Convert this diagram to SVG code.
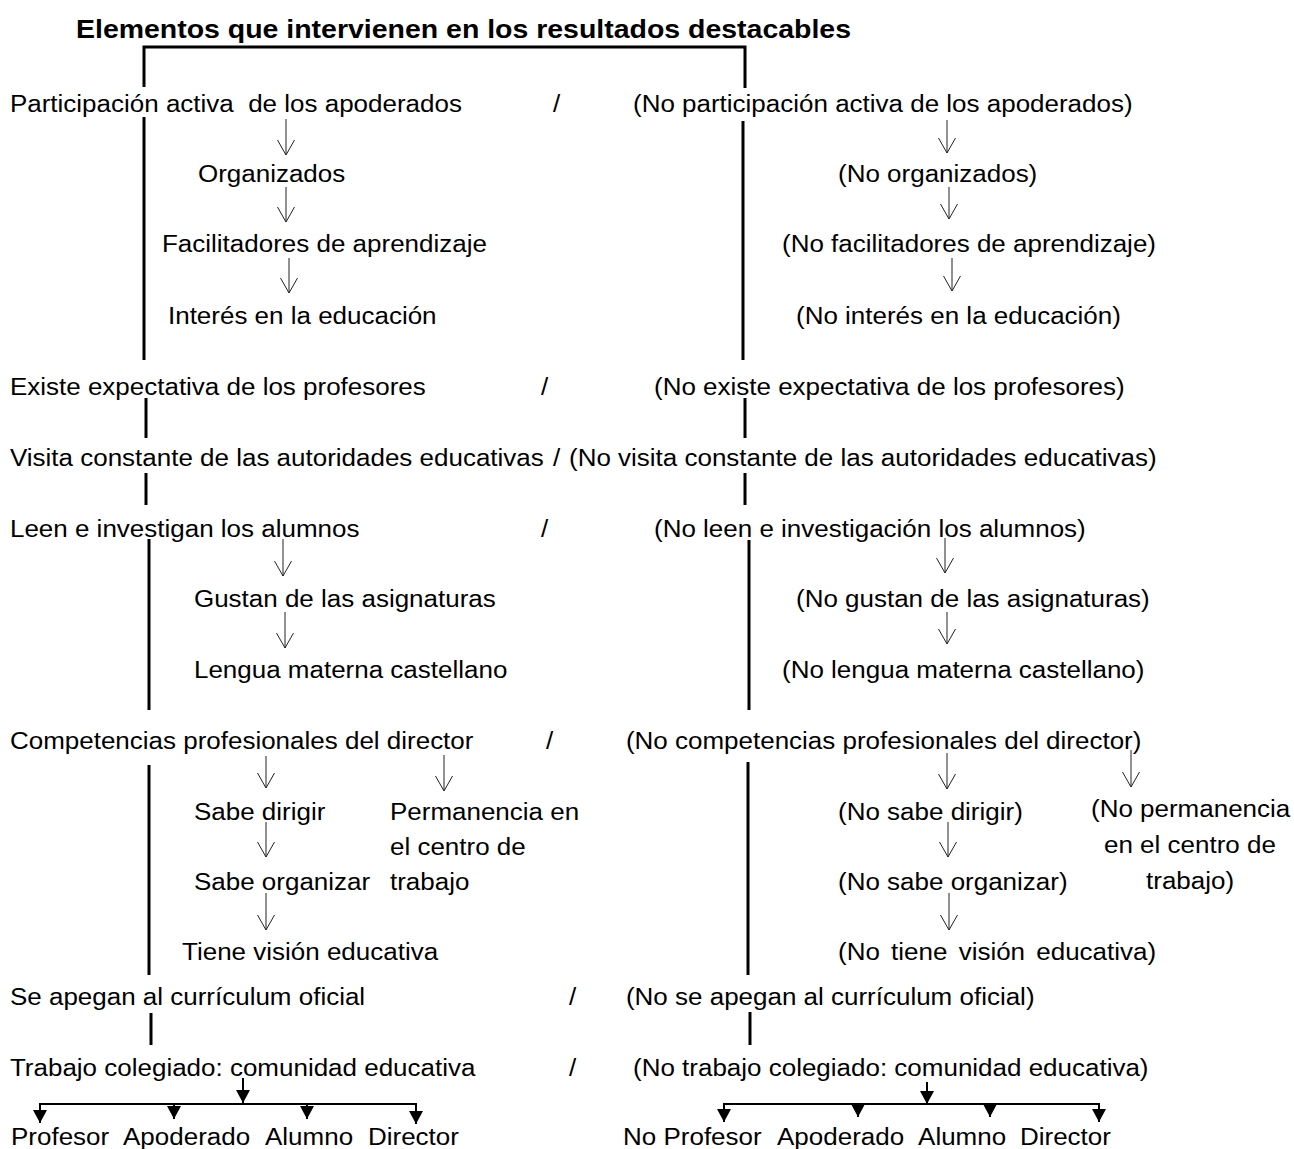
<svg xmlns="http://www.w3.org/2000/svg" width="1294" height="1149" viewBox="0 0 1294 1149">
<defs>
<style>
text{font-family:"Liberation Sans",Arial,sans-serif;font-size:24px;fill:#000;white-space:pre}
.title{font-weight:bold;font-size:25px}
.thick{stroke:#000;stroke-width:3;fill:none}
.thin{stroke:#222;stroke-width:1;fill:none}
.bar{stroke:#000;stroke-width:2;fill:none}
</style>
<marker id="openV" markerUnits="userSpaceOnUse" markerWidth="20" markerHeight="20" viewBox="-17 -10 19 20" refX="0" refY="0" orient="auto">
<path d="M-15,-8.5 L0,0 L-15,8.5" stroke="#222" stroke-width="1" fill="none"/>
</marker>
<marker id="solid" markerUnits="userSpaceOnUse" markerWidth="16" markerHeight="16" viewBox="-14 -8 15 16" refX="0" refY="0" orient="auto">
<path d="M-13,-7 L0,0 L-13,7 Z" fill="#000"/>
</marker>
</defs>
<rect width="1294" height="1149" fill="#fff"/>

<g id="title"><text class="title" x="76" y="38" textLength="775" lengthAdjust="spacingAndGlyphs">Elementos que intervienen en los resultados destacables</text></g>

<g id="connectors">
<polyline class="thick" points="144,87 144,47 745,47 745,88"/>
<line class="thick" x1="144" y1="117" x2="144" y2="360"/>
<line class="thick" x1="743" y1="121" x2="743" y2="360"/>
<line class="thick" x1="146" y1="398" x2="146" y2="438"/>
<line class="thick" x1="745" y1="398" x2="745" y2="438"/>
<line class="thick" x1="146" y1="473" x2="146" y2="505"/>
<line class="thick" x1="745" y1="473" x2="745" y2="505"/>
<line class="thick" x1="149" y1="539" x2="149" y2="710"/>
<line class="thick" x1="749" y1="540" x2="749" y2="710"/>
<line class="thick" x1="149" y1="765" x2="149" y2="975"/>
<line class="thick" x1="748" y1="762" x2="748" y2="975"/>
<line class="thick" x1="151" y1="1013" x2="151" y2="1045"/>
<line class="thick" x1="750" y1="1012" x2="750" y2="1045"/>

<path class="thin" marker-end="url(#openV)" d="M286,119 V155"/>
<path class="thin" marker-end="url(#openV)" d="M286,187 V222"/>
<path class="thin" marker-end="url(#openV)" d="M289,258 V293"/>
<path class="thin" marker-end="url(#openV)" d="M947,120 V153"/>
<path class="thin" marker-end="url(#openV)" d="M949,187 V219"/>
<path class="thin" marker-end="url(#openV)" d="M952,258 V291"/>
<path class="thin" marker-end="url(#openV)" d="M283,539 V576"/>
<path class="thin" marker-end="url(#openV)" d="M285,612 V648"/>
<path class="thin" marker-end="url(#openV)" d="M945,538 V573"/>
<path class="thin" marker-end="url(#openV)" d="M947,612 V644"/>
<path class="thin" marker-end="url(#openV)" d="M266,756 V788"/>
<path class="thin" marker-end="url(#openV)" d="M444,755 V791"/>
<path class="thin" marker-end="url(#openV)" d="M266,822 V857"/>
<path class="thin" marker-end="url(#openV)" d="M266,893 V930"/>
<path class="thin" marker-end="url(#openV)" d="M947,753 V789"/>
<path class="thin" marker-end="url(#openV)" d="M1131,750 V787"/>
<path class="thin" marker-end="url(#openV)" d="M948,822 V857"/>
<path class="thin" marker-end="url(#openV)" d="M949,893 V930"/>

<line class="bar" x1="243" y1="1078" x2="243" y2="1103" marker-end="url(#solid)"/>
<line class="bar" x1="39" y1="1104" x2="417" y2="1104"/>
<line class="bar" x1="40" y1="1104" x2="40" y2="1123" marker-end="url(#solid)"/>
<line class="bar" x1="174" y1="1104" x2="174" y2="1119" marker-end="url(#solid)"/>
<line class="bar" x1="307" y1="1104" x2="307" y2="1119" marker-end="url(#solid)"/>
<line class="bar" x1="416" y1="1104" x2="416" y2="1124" marker-end="url(#solid)"/>

<line class="bar" x1="927" y1="1082" x2="927" y2="1104" marker-end="url(#solid)"/>
<line class="bar" x1="723" y1="1104" x2="1100" y2="1104"/>
<line class="bar" x1="724" y1="1104" x2="724" y2="1122" marker-end="url(#solid)"/>
<line class="bar" x1="858" y1="1104" x2="858" y2="1117" marker-end="url(#solid)"/>
<line class="bar" x1="990" y1="1104" x2="990" y2="1117" marker-end="url(#solid)"/>
<line class="bar" x1="1099" y1="1104" x2="1099" y2="1122" marker-end="url(#solid)"/>
</g>

<g transform="scale(1.083 1)">
<g id="n-participacion"><text x="9.2" y="112">Participación activa  de los apoderados</text></g>
<g id="sep1"><text x="510.6" y="112">/</text></g>
<g id="n-no-participacion"><text x="584.5" y="112">(No participación activa de los apoderados)</text></g>
<g id="n-organizados"><text x="182.8" y="182">Organizados</text></g>
<g id="n-no-organizados"><text x="773.8" y="182">(No organizados)</text></g>
<g id="n-facilitadores"><text x="149.6" y="252">Facilitadores de aprendizaje</text></g>
<g id="n-no-facilitadores"><text x="722.1" y="252">(No facilitadores de aprendizaje)</text></g>
<g id="n-interes"><text x="155.1" y="324">Interés en la educación</text></g>
<g id="n-no-interes"><text x="735" y="324">(No interés en la educación)</text></g>

<g id="n-expectativa"><text x="9.2" y="395">Existe expectativa de los profesores</text></g>
<g id="sep2"><text x="499.5" y="395">/</text></g>
<g id="n-no-expectativa"><text x="603.9" y="395">(No existe expectativa de los profesores)</text></g>

<g id="n-visita"><text x="9.2" y="466">Visita constante de las autoridades educativas</text></g>
<g id="sep3"><text x="510.6" y="466">/</text></g>
<g id="n-no-visita"><text x="525.4" y="466">(No visita constante de las autoridades educativas)</text></g>

<g id="n-leen"><text x="9.2" y="537">Leen e investigan los alumnos</text></g>
<g id="sep4"><text x="499.5" y="537">/</text></g>
<g id="n-no-leen"><text x="603.9" y="537">(No leen e investigación los alumnos)</text></g>
<g id="n-gustan"><text x="179.1" y="607">Gustan de las asignaturas</text></g>
<g id="n-no-gustan"><text x="735" y="607">(No gustan de las asignaturas)</text></g>
<g id="n-lengua"><text x="179.1" y="678">Lengua materna castellano</text></g>
<g id="n-no-lengua"><text x="722.1" y="678">(No lengua materna castellano)</text></g>

<g id="n-competencias"><text x="9.2" y="749">Competencias profesionales del director</text></g>
<g id="sep5"><text x="504.2" y="749">/</text></g>
<g id="n-no-competencias"><text x="578" y="749">(No competencias profesionales del director)</text></g>
<g id="n-sabe-dirigir"><text x="179.1" y="820">Sabe dirigir</text></g>
<g id="n-permanencia"><text x="360.1" y="820">Permanencia en</text><text x="360.1" y="855">el centro de</text><text x="360.1" y="890">trabajo</text></g>
<g id="n-sabe-organizar"><text x="179.1" y="890">Sabe organizar</text></g>
<g id="n-vision"><text x="168.1" y="960">Tiene visión educativa</text></g>
<g id="n-no-sabe-dirigir"><text x="773.8" y="820">(No sabe dirigir)</text></g>
<g id="n-no-permanencia"><text x="1007.4" y="817">(No permanencia</text><text x="1019.4" y="853">en el centro de</text><text x="1058.2" y="889">trabajo)</text></g>
<g id="n-no-sabe-organizar"><text x="773.8" y="890">(No sabe organizar)</text></g>
<g id="n-no-vision"><text x="773.8" y="960" word-spacing="3.7">(No tiene visión educativa)</text></g>

<g id="n-curriculum"><text x="9.2" y="1005">Se apegan al currículum oficial</text></g>
<g id="sep6"><text x="525.4" y="1005">/</text></g>
<g id="n-no-curriculum"><text x="578" y="1005">(No se apegan al currículum oficial)</text></g>

<g id="n-colegiado"><text x="9.2" y="1076">Trabajo colegiado: comunidad educativa</text></g>
<g id="sep7"><text x="525.4" y="1076">/</text></g>
<g id="n-no-colegiado"><text x="584.5" y="1076">(No trabajo colegiado: comunidad educativa)</text></g>

<g id="n-profesor"><text x="10.2" y="1145">Profesor</text></g>
<g id="n-apoderado"><text x="113.6" y="1145">Apoderado</text></g>
<g id="n-alumno"><text x="244.7" y="1145">Alumno</text></g>
<g id="n-director"><text x="339.8" y="1145">Director</text></g>
<g id="n-no-profesor"><text x="575.3" y="1145">No Profesor</text></g>
<g id="n-no-apoderado"><text x="717.5" y="1145">Apoderado</text></g>
<g id="n-no-alumno"><text x="847.7" y="1145">Alumno</text></g>
<g id="n-no-director"><text x="941.8" y="1145">Director</text></g>
</g>
</svg>
